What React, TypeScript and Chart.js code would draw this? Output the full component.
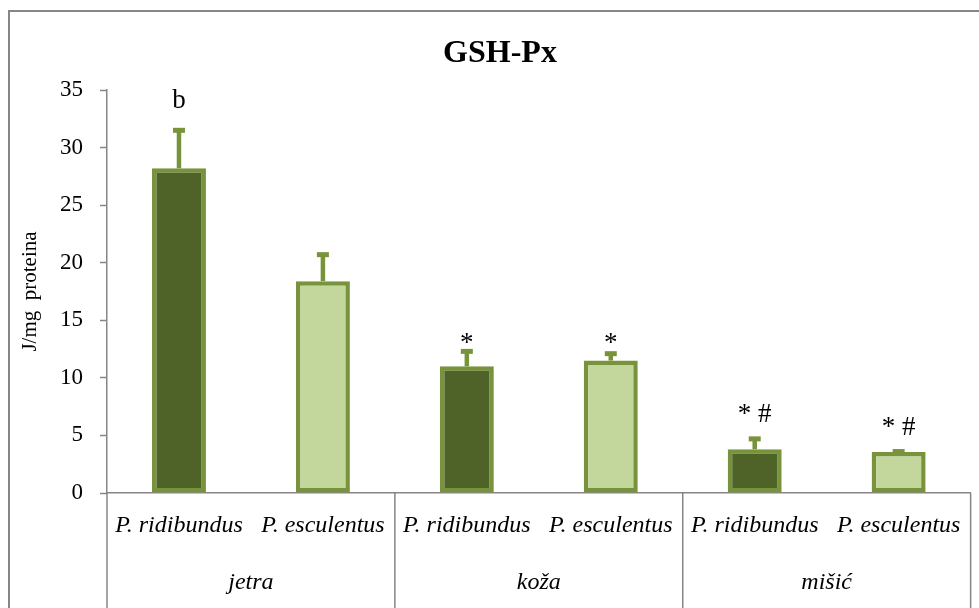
import React, { useEffect, useRef } from "react";
import { Chart, registerables } from "chart.js";

Chart.register(...registerables);

// ---- data ----
const categories = ["P. ridibundus", "P. esculentus", "P. ridibundus", "P. esculentus", "P. ridibundus", "P. esculentus"];
const groups = ["jetra", "koža", "mišić"];
const means = [28.2, 18.4, 11.0, 11.5, 3.8, 3.55];
const errorTops = [31.5, 20.7, 12.3, 12.1, 4.7, 3.6];
const markLabels = ["b", "", "*", "*", "* #", "* #"];
const markValues = [33.4, 0, 12.35, 12.35, 6.2, 5.05];
const yMin = 0;
const yMax = 35;
const yStep = 5;
const titleText = "GSH-Px";
const yTitle = "J/mg  proteina";

// ---- styles ----
const SERIF = "'Liberation Serif', 'Times New Roman', serif";
const DARK = "#4F6228";
const LIGHT = "#C3D69B";
const EDGE = "#77933C";
const AXIS = "#868686";

const overlay = {
  id: "overlay",
  beforeDraw(chart: any) {
    const { ctx, width, height } = chart;
    ctx.save();
    ctx.fillStyle = "#ffffff";
    ctx.fillRect(0, 0, width, height);
    ctx.restore();
  },
  afterDatasetsDraw(chart: any) {
    const { ctx } = chart;
    const x = chart.scales.x;
    const y = chart.scales.y;
    ctx.save();
    // error bars
    ctx.strokeStyle = EDGE;
    means.forEach((m, i) => {
      const px = x.getPixelForValue(i);
      const y0 = y.getPixelForValue(m);
      const y1 = y.getPixelForValue(errorTops[i]);
      ctx.lineWidth = 4.5;
      ctx.beginPath();
      ctx.moveTo(px, y0);
      ctx.lineTo(px, y1);
      ctx.stroke();
      ctx.lineWidth = 5;
      ctx.beginPath();
      ctx.moveTo(px - 6, y1);
      ctx.lineTo(px + 6, y1);
      ctx.stroke();
    });
    // significance marks
    ctx.fillStyle = "#000";
    ctx.textAlign = "center";
    ctx.textBaseline = "alphabetic";
    ctx.font = `27px ${SERIF}`;
    markLabels.forEach((t, i) => {
      if (!t) return;
      ctx.fillText(t, x.getPixelForValue(i), y.getPixelForValue(markValues[i]));
    });
    ctx.restore();
  },
  afterDraw(chart: any) {
    const { ctx, chartArea, height } = chart;
    const x = chart.scales.x;
    ctx.save();
    // outer frame
    ctx.strokeStyle = AXIS;
    ctx.lineWidth = 2;
    ctx.strokeRect(9, 11, 2000, 2000);
    // title
    ctx.fillStyle = "#000";
    ctx.textAlign = "center";
    ctx.textBaseline = "alphabetic";
    ctx.font = `bold 32px ${SERIF}`;
    ctx.fillText(titleText, 500, 62);
    // group separators
    ctx.strokeStyle = AXIS;
    ctx.lineWidth = 1.5;
    const bounds: number[] = [chartArea.left];
    for (let g = 1; g < groups.length; g++) {
      bounds.push((x.getPixelForValue(2 * g - 1) + x.getPixelForValue(2 * g)) / 2);
    }
    bounds.push(chartArea.right);
    bounds.forEach((bx) => {
      ctx.beginPath();
      ctx.moveTo(bx, chartArea.bottom);
      ctx.lineTo(bx, height);
      ctx.stroke();
    });
    // group labels
    ctx.font = `italic 24px ${SERIF}`;
    groups.forEach((g, i) => {
      const cx = (x.getPixelForValue(2 * i) + x.getPixelForValue(2 * i + 1)) / 2;
      ctx.fillText(g, cx, chartArea.bottom + 96);
    });
    ctx.restore();
  },
};

export default function App() {
  const ref = useRef<HTMLCanvasElement>(null);
  useEffect(() => {
    if (!ref.current) return;
    const chart = new Chart(ref.current, {
      type: "bar",
      data: {
        labels: categories,
        datasets: [
          {
            data: means,
            backgroundColor: means.map((_, i) => (i % 2 === 0 ? DARK : LIGHT)),
            borderColor: EDGE,
            borderWidth: 4.5,
            borderSkipped: false,
            barPercentage: 0.375,
            categoryPercentage: 1,
          },
        ],
      },
      options: {
        responsive: false,
        animation: false,
        devicePixelRatio: 1,
        layout: { padding: { left: 0, top: 90, right: 7, bottom: 0 } },
        plugins: { legend: { display: false }, tooltip: { enabled: false }, title: { display: false } },
        scales: {
          x: {
            grid: { display: true, drawOnChartArea: false, drawTicks: false, color: AXIS },
            border: { display: true, color: AXIS, width: 1.5 },
            ticks: {
              color: "#000",
              font: { family: SERIF, size: 24, style: "italic" },
              padding: 18,
              maxRotation: 0,
              minRotation: 0,
              autoSkip: false,
            },
            afterFit: (s: any) => {
              s.height = 115;
            },
          },
          y: {
            min: yMin,
            max: yMax,
            grid: { display: true, drawOnChartArea: false, drawTicks: true, tickLength: 7, tickColor: AXIS, tickWidth: 1.5 },
            border: { display: true, color: AXIS, width: 1.5 },
            ticks: {
              stepSize: yStep,
              color: "#000",
              font: { family: SERIF, size: 23 },
              padding: 17,
            },
            title: {
              display: true,
              text: yTitle,
              color: "#000",
              font: { family: SERIF, size: 21 },
              padding: { top: 18, bottom: 0 },
            },
            afterFit: (s: any) => {
              s.width = 107;
            },
          },
        },
      },
      plugins: [overlay],
    });
    return () => chart.destroy();
  }, []);
  return (
    <div style={{ position: "absolute", left: 0, top: 0, width: 979, height: 608, background: "#fff" }}>
      <canvas ref={ref} width={979} height={608} style={{ width: 979, height: 608, display: "block" }} />
    </div>
  );
}
